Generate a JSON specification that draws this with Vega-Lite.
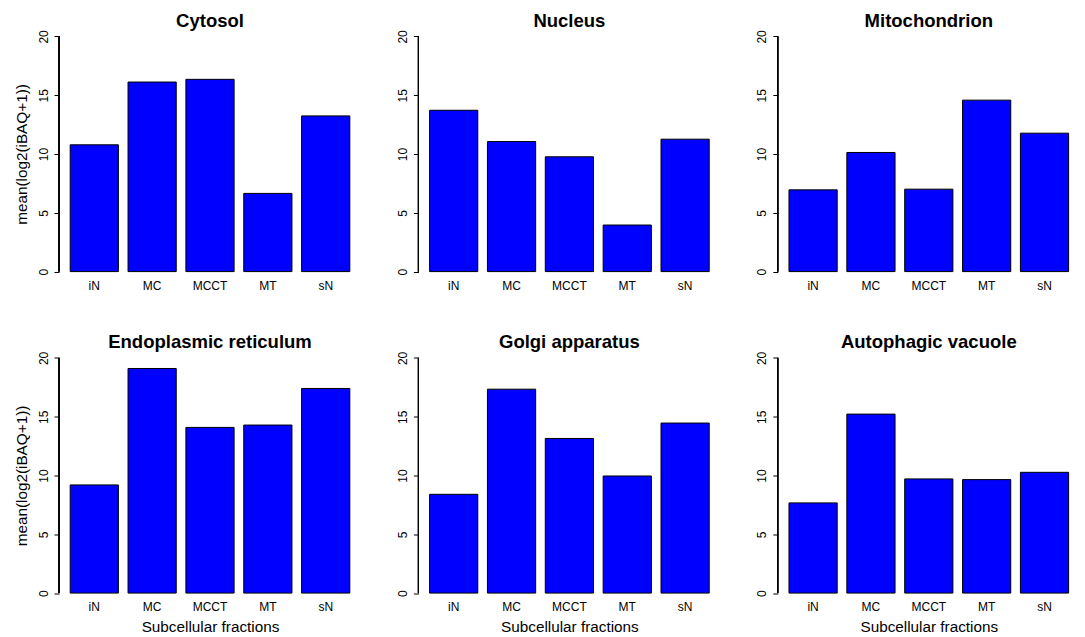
{
  "$schema": "https://vega.github.io/schema/vega-lite/v6.json",
  "background": "white",
  "padding": {"left": 14, "top": 11, "right": 0, "bottom": 0},
  "bounds": "flush",
  "columns": 3,
  "spacing": {"row": 67.5, "column": 57.4},
  "data": {"values": [
    {"compartment": "Cytosol", "fraction": "iN", "value": 10.78},
    {"compartment": "Cytosol", "fraction": "MC", "value": 16.12},
    {"compartment": "Cytosol", "fraction": "MCCT", "value": 16.35},
    {"compartment": "Cytosol", "fraction": "MT", "value": 6.65},
    {"compartment": "Cytosol", "fraction": "sN", "value": 13.24},
    {"compartment": "Nucleus", "fraction": "iN", "value": 13.72},
    {"compartment": "Nucleus", "fraction": "MC", "value": 11.06},
    {"compartment": "Nucleus", "fraction": "MCCT", "value": 9.76},
    {"compartment": "Nucleus", "fraction": "MT", "value": 3.96},
    {"compartment": "Nucleus", "fraction": "sN", "value": 11.26},
    {"compartment": "Mitochondrion", "fraction": "iN", "value": 6.95},
    {"compartment": "Mitochondrion", "fraction": "MC", "value": 10.13},
    {"compartment": "Mitochondrion", "fraction": "MCCT", "value": 7.01},
    {"compartment": "Mitochondrion", "fraction": "MT", "value": 14.58},
    {"compartment": "Mitochondrion", "fraction": "sN", "value": 11.77},
    {"compartment": "Endoplasmic reticulum", "fraction": "iN", "value": 9.2},
    {"compartment": "Endoplasmic reticulum", "fraction": "MC", "value": 19.1},
    {"compartment": "Endoplasmic reticulum", "fraction": "MCCT", "value": 14.09},
    {"compartment": "Endoplasmic reticulum", "fraction": "MT", "value": 14.29},
    {"compartment": "Endoplasmic reticulum", "fraction": "sN", "value": 17.4},
    {"compartment": "Golgi apparatus", "fraction": "iN", "value": 8.4},
    {"compartment": "Golgi apparatus", "fraction": "MC", "value": 17.34},
    {"compartment": "Golgi apparatus", "fraction": "MCCT", "value": 13.15},
    {"compartment": "Golgi apparatus", "fraction": "MT", "value": 9.96},
    {"compartment": "Golgi apparatus", "fraction": "sN", "value": 14.46},
    {"compartment": "Autophagic vacuole", "fraction": "iN", "value": 7.67},
    {"compartment": "Autophagic vacuole", "fraction": "MC", "value": 15.22},
    {"compartment": "Autophagic vacuole", "fraction": "MCCT", "value": 9.71},
    {"compartment": "Autophagic vacuole", "fraction": "MT", "value": 9.65},
    {"compartment": "Autophagic vacuole", "fraction": "sN", "value": 10.27}
  ]},
  "concat": [
    {
      "title": {"text": "Cytosol"},
      "width": 302, "height": 254,
      "transform": [{"filter": {"field": "compartment", "equal": "Cytosol"}}],
      "layer": [
        {"mark": {"type": "bar", "fill": "#0000FF", "stroke": "#000000", "strokeWidth": 1},
         "encoding": {
           "x": {"field": "fraction", "type": "nominal", "sort": ["iN", "MC", "MCCT", "MT", "sN"], "scale": {"paddingInner": 0.1667, "paddingOuter": 0.1933}, "axis": {"title": null}},
           "y": {"field": "value", "type": "quantitative", "scale": {"domain": [-0.8, 20.8], "nice": false, "zero": false}, "axis": {"values": [0, 5, 10, 15, 20], "title": "mean(log2(iBAQ+1))"}},
           "y2": {"datum": 0}
         }},
        {"mark": {"type": "rule", "color": "#000000", "strokeWidth": 1},
         "encoding": {"x": {"value": 0}, "y": {"datum": 0, "type": "quantitative"}, "y2": {"datum": 20}}}
      ]
    },
    {
      "title": {"text": "Nucleus"},
      "width": 302, "height": 254,
      "transform": [{"filter": {"field": "compartment", "equal": "Nucleus"}}],
      "layer": [
        {"mark": {"type": "bar", "fill": "#0000FF", "stroke": "#000000", "strokeWidth": 1},
         "encoding": {
           "x": {"field": "fraction", "type": "nominal", "sort": ["iN", "MC", "MCCT", "MT", "sN"], "scale": {"paddingInner": 0.1667, "paddingOuter": 0.1933}, "axis": {"title": null}},
           "y": {"field": "value", "type": "quantitative", "scale": {"domain": [-0.8, 20.8], "nice": false, "zero": false}, "axis": {"values": [0, 5, 10, 15, 20], "title": null}},
           "y2": {"datum": 0}
         }},
        {"mark": {"type": "rule", "color": "#000000", "strokeWidth": 1},
         "encoding": {"x": {"value": 0}, "y": {"datum": 0, "type": "quantitative"}, "y2": {"datum": 20}}}
      ]
    },
    {
      "title": {"text": "Mitochondrion"},
      "width": 302, "height": 254,
      "transform": [{"filter": {"field": "compartment", "equal": "Mitochondrion"}}],
      "layer": [
        {"mark": {"type": "bar", "fill": "#0000FF", "stroke": "#000000", "strokeWidth": 1},
         "encoding": {
           "x": {"field": "fraction", "type": "nominal", "sort": ["iN", "MC", "MCCT", "MT", "sN"], "scale": {"paddingInner": 0.1667, "paddingOuter": 0.1933}, "axis": {"title": null}},
           "y": {"field": "value", "type": "quantitative", "scale": {"domain": [-0.8, 20.8], "nice": false, "zero": false}, "axis": {"values": [0, 5, 10, 15, 20], "title": null}},
           "y2": {"datum": 0}
         }},
        {"mark": {"type": "rule", "color": "#000000", "strokeWidth": 1},
         "encoding": {"x": {"value": 0}, "y": {"datum": 0, "type": "quantitative"}, "y2": {"datum": 20}}}
      ]
    },
    {
      "title": {"text": "Endoplasmic reticulum"},
      "width": 302, "height": 254,
      "transform": [{"filter": {"field": "compartment", "equal": "Endoplasmic reticulum"}}],
      "layer": [
        {"mark": {"type": "bar", "fill": "#0000FF", "stroke": "#000000", "strokeWidth": 1},
         "encoding": {
           "x": {"field": "fraction", "type": "nominal", "sort": ["iN", "MC", "MCCT", "MT", "sN"], "scale": {"paddingInner": 0.1667, "paddingOuter": 0.1933}, "axis": {"title": "Subcellular fractions"}},
           "y": {"field": "value", "type": "quantitative", "scale": {"domain": [-0.8, 20.8], "nice": false, "zero": false}, "axis": {"values": [0, 5, 10, 15, 20], "title": "mean(log2(iBAQ+1))"}},
           "y2": {"datum": 0}
         }},
        {"mark": {"type": "rule", "color": "#000000", "strokeWidth": 1},
         "encoding": {"x": {"value": 0}, "y": {"datum": 0, "type": "quantitative"}, "y2": {"datum": 20}}}
      ]
    },
    {
      "title": {"text": "Golgi apparatus"},
      "width": 302, "height": 254,
      "transform": [{"filter": {"field": "compartment", "equal": "Golgi apparatus"}}],
      "layer": [
        {"mark": {"type": "bar", "fill": "#0000FF", "stroke": "#000000", "strokeWidth": 1},
         "encoding": {
           "x": {"field": "fraction", "type": "nominal", "sort": ["iN", "MC", "MCCT", "MT", "sN"], "scale": {"paddingInner": 0.1667, "paddingOuter": 0.1933}, "axis": {"title": "Subcellular fractions"}},
           "y": {"field": "value", "type": "quantitative", "scale": {"domain": [-0.8, 20.8], "nice": false, "zero": false}, "axis": {"values": [0, 5, 10, 15, 20], "title": null}},
           "y2": {"datum": 0}
         }},
        {"mark": {"type": "rule", "color": "#000000", "strokeWidth": 1},
         "encoding": {"x": {"value": 0}, "y": {"datum": 0, "type": "quantitative"}, "y2": {"datum": 20}}}
      ]
    },
    {
      "title": {"text": "Autophagic vacuole"},
      "width": 302, "height": 254,
      "transform": [{"filter": {"field": "compartment", "equal": "Autophagic vacuole"}}],
      "layer": [
        {"mark": {"type": "bar", "fill": "#0000FF", "stroke": "#000000", "strokeWidth": 1},
         "encoding": {
           "x": {"field": "fraction", "type": "nominal", "sort": ["iN", "MC", "MCCT", "MT", "sN"], "scale": {"paddingInner": 0.1667, "paddingOuter": 0.1933}, "axis": {"title": "Subcellular fractions"}},
           "y": {"field": "value", "type": "quantitative", "scale": {"domain": [-0.8, 20.8], "nice": false, "zero": false}, "axis": {"values": [0, 5, 10, 15, 20], "title": null}},
           "y2": {"datum": 0}
         }},
        {"mark": {"type": "rule", "color": "#000000", "strokeWidth": 1},
         "encoding": {"x": {"value": 0}, "y": {"datum": 0, "type": "quantitative"}, "y2": {"datum": 20}}}
      ]
    }
  ],
  "config": {
    "font": "Liberation Sans",
    "view": {"stroke": null},
    "title": {"font": "Liberation Sans", "fontSize": 18.5, "fontWeight": "bold", "color": "#000000", "anchor": "middle", "frame": "group", "baseline": "alphabetic", "offset": -3},
    "axis": {"domain": false, "grid": false, "labelFont": "Liberation Sans", "labelFontSize": 12, "labelColor": "#000000", "tickColor": "#000000", "titleFont": "Liberation Sans", "titleFontSize": 15.3, "titleFontWeight": "normal", "titleColor": "#000000"},
    "axisX": {"ticks": false, "labelAngle": 0, "labelPadding": -1, "titlePadding": 7},
    "axisY": {"tickSize": 5, "labelAngle": 270, "labelAlign": "center", "labelBaseline": "bottom", "labelPadding": 4, "titlePadding": 8}
  }
}
